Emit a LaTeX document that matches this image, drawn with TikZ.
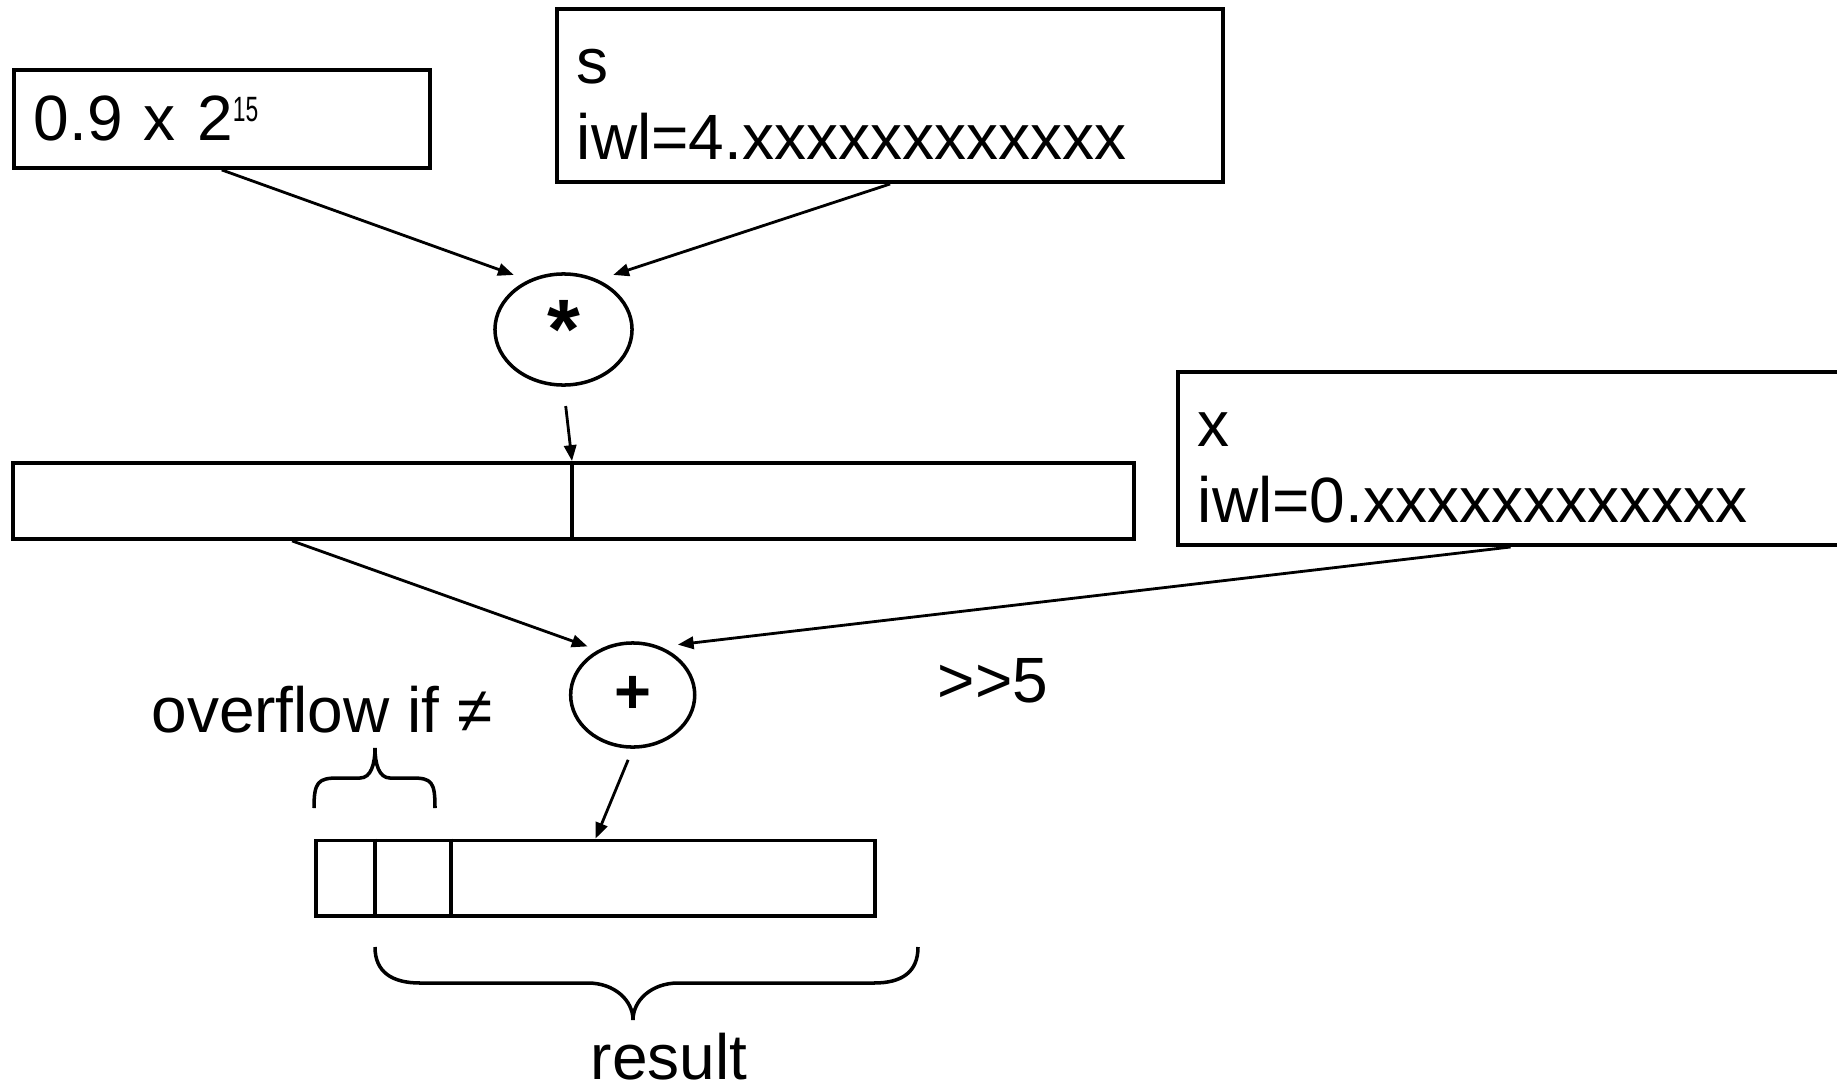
\documentclass[tikz,border=0pt]{standalone}
\usepackage{graphicx}
\usepackage{fontspec}
\setmainfont{Liberation Sans}
\usetikzlibrary{shapes.geometric,arrows.meta,calc}

\tikzset{
	reg/.style={draw, line width=1.1pt, anchor=north west, inner xsep=0.2cm, inner ysep=0pt, align=left},
	bar/.style={draw, line width=1.1pt, anchor=north west, inner sep=0pt},
	op/.style={draw, ellipse, line width=1pt, inner sep=0pt, font=\fontsize{18}{21.6}\selectfont\bfseries},
	flow/.style={line width=0.8pt, -{Triangle[length=4.5pt,width=3.5pt]}},
	curly/.style={line width=1pt},
}

\begin{document}
\begin{tikzpicture}[x=0.01cm, y=-0.01cm, font=\fontsize{18.2}{21.6}\selectfont]
	\useasboundingbox (0,0) rectangle (1837,1082);

	% inputs
	\node[reg, minimum width=4.16cm, minimum height=0.98cm, text width=3.76cm] (coef) at (11.7,68)
		{0.9 x 2\raisebox{5.5pt}{\fontsize{10}{10}\selectfont\scalebox{0.65}[1]{15}}};
	\node[reg, minimum width=6.66cm, minimum height=1.73cm, text width=6.26cm] (sreg) at (555,7)
		{s\rule{0pt}{15pt}\\iwl=4.xxxxxxxxxxxx};
	\node[reg, minimum width=6.65cm, minimum height=1.73cm, text width=6.25cm] (xreg) at (1176,370)
		{x\rule{0pt}{15pt}\\iwl=0.xxxxxxxxxxxx};

	% operators
	\node[op, minimum width=1.37cm, minimum height=1.11cm, font=\fontsize{24}{24}\selectfont\bfseries] (mul) at (563.5,329.5) {*};
	\node[op, minimum width=1.24cm, minimum height=1.04cm] (add) at (632.7,695) {+};

	% registers
	\node[bar, minimum width=11.2cm, minimum height=0.76cm] (acc) at (11,461) {};
	\node[bar, minimum width=5.59cm, minimum height=0.755cm] (res) at (314,838.5) {};
	\coordinate (accdiv) at (572,461);
	\coordinate (resdiva) at (375,838.5);
	\coordinate (resdivb) at (451,838.5);
	\draw[line width=1.1pt] (accdiv) -- (accdiv |- acc.south);
	\draw[line width=1.1pt] (resdiva) -- (resdiva |- res.south);
	\draw[line width=1.1pt] (resdivb) -- (resdivb |- res.south);

	% data flow
	\draw[flow] (coef.south) -- ([yshift=4pt]mul.north west);
	\draw[flow] (sreg.south) -- ([yshift=4pt]mul.north east);
	\draw[flow, shorten <=5.5pt] (mul.south) -- (accdiv);
	\draw[flow] ($(acc.south west)!0.25!(acc.south east)$) -- ([yshift=3pt]add.north west);
	\draw[flow] (xreg.south) -- ([yshift=3.5pt]add.north east);
	\draw[flow, shorten <=3.4pt] (add.south) -- (res.north);

	% labels
	\node (shift) at (993,680.5) {>{}>5};
	\node (ovf) at (322,710) {overflow if ≠};
	\node (reslbl) at (669,1056.5) {result};

	% braces
	\draw[curly] (314,808) .. controls (314,782) and (318,778) .. (338,778) -- (360,778)
		.. controls (371,778) and (375,764) .. (375,748)
		.. controls (375,764) and (379,778) .. (390,778) -- (412,778)
		.. controls (432,778) and (435,782) .. (435,808);
	\draw[curly] (375,947) .. controls (375,972) and (392,983) .. (420,983) -- (588,983)
		.. controls (614,983) and (633,1000) .. (633,1020)
		.. controls (633,1000) and (652,983) .. (678,983) -- (874,983)
		.. controls (902,983) and (918,972) .. (918,947);
\end{tikzpicture}
\end{document}
